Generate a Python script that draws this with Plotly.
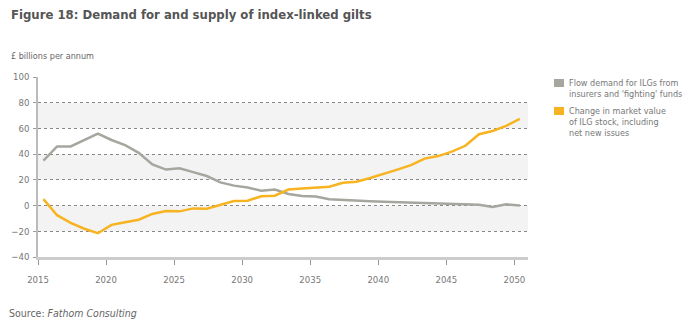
import plotly.graph_objects as go

years = list(range(2015, 2051))
flow_demand = [35, 46, 46, 51, 56, 51, 47, 41, 32, 28, 29, 26, 23, 18, 15.5, 14,
               11.5, 12.5, 9, 7.5, 7, 5, 4.3, 3.8, 3.4, 3, 2.6, 2.3, 2, 1.7, 1.2,
               1, 0.7, -1.1, 1, 0]
market_value = [5, -7.5, -13.5, -18, -21.5, -15, -13, -11, -6.5, -4.3, -4.5, -2.2,
                -2.4, 0.5, 3.6, 3.8, 7.3, 7.7, 12.5, 13.2, 13.8, 14.7, 17.8, 18.6,
                21.5, 24.5, 28, 31.5, 36.5, 38.5, 42, 46.5, 55.5, 58, 62, 67.5]
x_ticks = [2015, 2020, 2025, 2030, 2035, 2040, 2045, 2050]
y_ticks = [100, 80, 60, 40, 20, 0, -20, -40]
bands = [(60, 80), (20, 40), (-20, 0)]
legend_lines = [["Flow demand for ILGs from", "insurers and 'fighting' funds"],
                ["Change in market value", "of ILG stock, including", "net new issues"]]

GREY = "#a6a59e"
YELLOW = "#f7b320"
FONT = "DejaVu Sans Condensed, Roboto, sans-serif"

# plot area geometry (pixels) to paper-coordinate helpers
L, T, W, H = 38, 77, 490, 180


def px(xp):
    return (xp - L) / W


def py(yp):
    return 1 - (yp - T) / H


xpos = [y + 0.4 for y in years]

fig = go.Figure()
fig.add_trace(go.Scatter(x=xpos, y=flow_demand, mode="lines",
                         line=dict(color=GREY, width=2.5), name="flow"))
fig.add_trace(go.Scatter(x=xpos, y=market_value, mode="lines",
                         line=dict(color=YELLOW, width=2.5), name="mv"))

shapes = []
for lo, hi in bands:
    shapes.append(dict(type="rect", xref="x", yref="y", x0=2015, x1=2051, y0=lo, y1=hi,
                       fillcolor="#f3f3f3", line=dict(width=0), layer="below"))

annotations = [
    dict(text="<b>Figure 18: Demand for and supply of index-linked gilts</b>",
         xref="paper", yref="paper", x=px(9), y=py(15), xanchor="left",
         yanchor="middle", showarrow=False,
         font=dict(family=FONT, size=13, color="#555555")),
    dict(text="£ billions per annum", xref="paper", yref="paper",
         x=px(9), y=py(56), xanchor="left", yanchor="middle",
         showarrow=False, font=dict(family=FONT, size=9, color="#666666")),
    dict(text="Source: <i>Fathom Consulting</i>", xref="paper", yref="paper",
         x=px(7), y=py(313), xanchor="left", yanchor="middle",
         showarrow=False, font=dict(family=FONT, size=10.5, color="#666666")),
]

swatch_y = [83, 111]
line_y = [[83, 93.5], [111, 122, 133]]
for color, sy, lines, ly in zip([GREY, YELLOW], swatch_y, legend_lines, line_y):
    shapes.append(dict(type="rect", xref="paper", yref="paper", x0=px(554), x1=px(564),
                       y0=py(sy + 4), y1=py(sy - 4), fillcolor=color, line=dict(width=0)))
    for txt, yy in zip(lines, ly):
        annotations.append(dict(text=txt, xref="paper", yref="paper", x=px(567), y=py(yy),
                                xanchor="left", yanchor="middle", showarrow=False,
                                font=dict(family=FONT, size=9, color="#777777")))

fig.update_layout(
    width=687, height=328,
    margin=dict(l=L, r=687 - L - W, t=T, b=328 - T - H),
    paper_bgcolor="white", plot_bgcolor="white",
    showlegend=False,
    shapes=shapes, annotations=annotations,
    font=dict(family=FONT, size=9.5, color="#777777"),
)
fig.update_xaxes(range=[2015, 2051], tickvals=x_ticks, ticktext=[str(t) for t in x_ticks],
                 showgrid=False, zeroline=False, showline=True, linecolor="#cccccc",
                 linewidth=2.5, ticks="outside", ticklen=5, tickcolor="#999999",
                 ticklabelstandoff=7,
                 tickfont=dict(family=FONT, size=9.5, color="#777777"))
fig.update_yaxes(range=[-40, 100], tickvals=y_ticks, showgrid=True, gridcolor="#888888",
                 griddash="dot", gridwidth=1, zeroline=False, showline=True,
                 linecolor="#bbbbbb", linewidth=1.5, ticks="outside", ticklen=3,
                 tickcolor="#999999", ticklabelstandoff=2,
                 tickfont=dict(family=FONT, size=9.5, color="#777777"))

fig.write_html("out.html")
